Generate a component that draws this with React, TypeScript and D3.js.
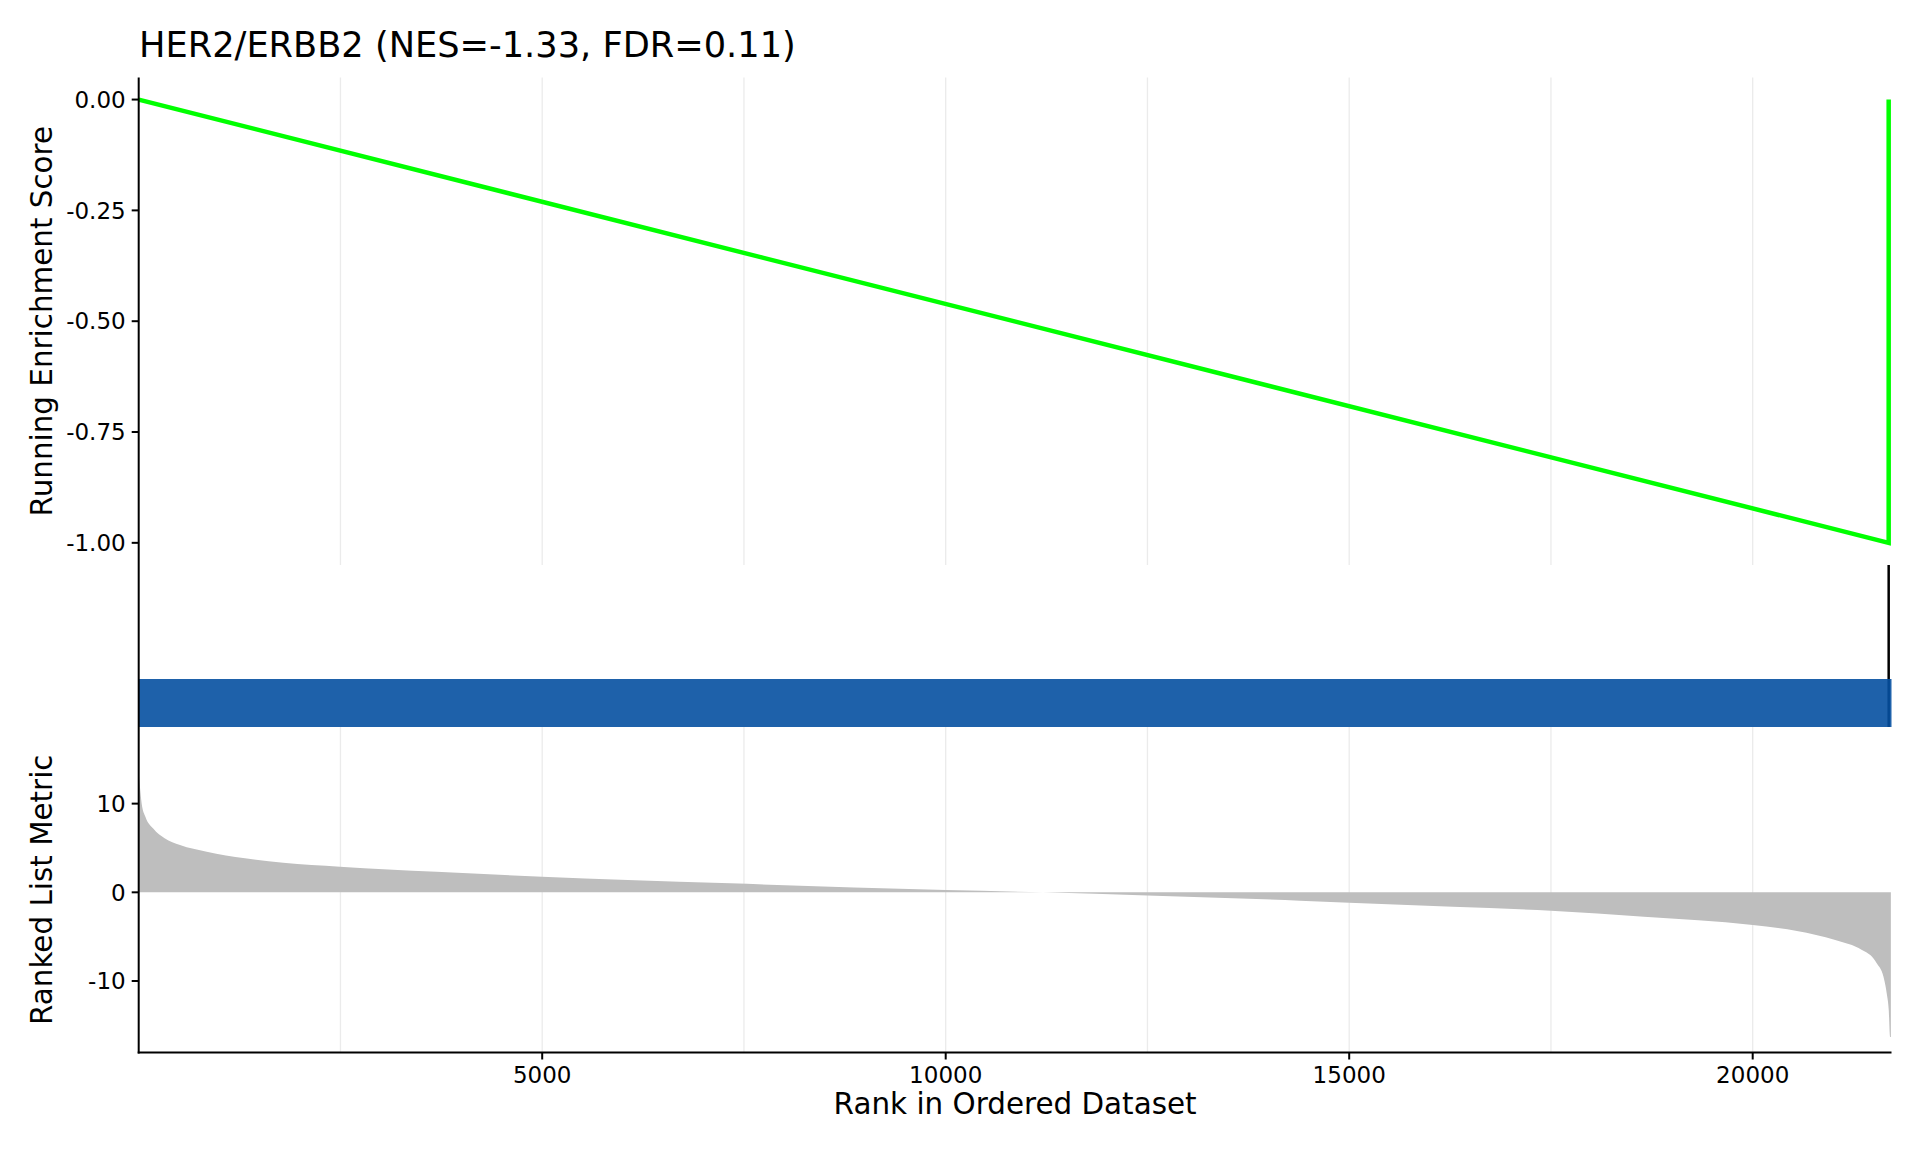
import React from "react";
import * as d3 from "d3";

// ---------- data ----------
const titleText = "HER2/ERBB2 (NES=-1.33, FDR=0.11)";
const xLabel = "Rank in Ordered Dataset";
const esLabel = "Running Enrichment Score";
const metricLabel = "Ranked List Metric";

const totalGenes = 21720;

// running enrichment score (rank, ES)
const esRanks = [0, 21685, 21685];
const esScores = [0, -1.0, 0];

// gene-set hits
const hitRanks = [21685];

// ranked list metric (rank, value)
const metricRanks = [
  0, 13, 37, 84, 180, 321, 512, 843, 1317, 1791, 2493, 3689, 5000, 6060, 7330,
  10000, 11206, 12500, 14390, 15000, 16285, 17500, 18653, 20000, 20548, 21023,
  21354, 21497, 21537, 21620, 21661, 21686, 21703, 21712,
];
const metricValues = [
  13.5, 12.1, 10.0, 8.5, 7.2, 6.1, 5.33, 4.58, 3.83, 3.34, 2.89, 2.32, 1.76,
  1.39, 1.01, 0.26, 0, -0.36, -0.94, -1.17, -1.62, -2.07, -2.75, -3.69, -4.36,
  -5.38, -6.5, -7.45, -8.0, -9.5, -11.4, -13.3, -16.3, -16.3,
];

const xTicks = [5000, 10000, 15000, 20000];
const xGrid = [2500, 5000, 7500, 10000, 12500, 15000, 17500, 20000];
const esTicks = [0, -0.25, -0.5, -0.75, -1.0];
const metricTicks = [10, 0, -10];

// ---------- layout ----------
const W = 1920;
const H = 1152;
const left = 138.7;
const right = 1891.5;
const topPanel = { top: 77.4, bottom: 565 };
const midPanel = { top: 565, barTop: 679, bottom: 727 };
const botPanel = { top: 727, bottom: 1052.5 };
const FONT = "'DejaVu Sans', sans-serif";

export default function App() {
  const x = d3.scaleLinear().domain([0, totalGenes]).range([left, right]);
  const yEs = d3.scaleLinear().domain([-1.05, 0.05]).range([topPanel.bottom, topPanel.top]);
  const yM = d3.scaleLinear().domain([-18.06, 18.64]).range([botPanel.bottom, botPanel.top]);

  const esData = esRanks.map((r, i) => ({ r, v: esScores[i] }));
  const mData = metricRanks.map((r, i) => ({ r, v: metricValues[i] }));

  const esLine = d3
    .line<{ r: number; v: number }>()
    .x((d) => x(d.r))
    .y((d) => yEs(d.v));

  const mArea = d3
    .area<{ r: number; v: number }>()
    .x((d) => x(d.r))
    .y0(yM(0))
    .y1((d) => yM(d.v))
    .curve(d3.curveMonotoneX);

  const fmtEs = (v: number) => (v === 0 ? "0.00" : d3.format(".2f")(v).replace("−", "-"));

  const tickLen = 7;

  return (
    <svg
      width={W}
      height={H}
      viewBox={`0 0 ${W} ${H}`}
      style={{ position: "absolute", left: 0, top: 0, background: "#fff" }}
      fontFamily={FONT}
    >
      <rect x={0} y={0} width={W} height={H} fill="#ffffff" />

      {/* grid lines, top panel */}
      {xGrid.map((g) => (
        <line
          key={"gt" + g}
          x1={x(g)}
          x2={x(g)}
          y1={topPanel.top}
          y2={topPanel.bottom}
          stroke="#ebebeb"
          strokeWidth={1.3}
        />
      ))}
      {/* grid lines, bottom panel */}
      {xGrid.map((g) => (
        <line
          key={"gb" + g}
          x1={x(g)}
          x2={x(g)}
          y1={botPanel.top}
          y2={botPanel.bottom}
          stroke="#ebebeb"
          strokeWidth={1.3}
        />
      ))}

      {/* running ES */}
      <path
        d={esLine(esData) || ""}
        fill="none"
        stroke="#00ff00"
        strokeWidth={4.5}
        strokeLinejoin="miter"
      />

      {/* hits */}
      {hitRanks.map((h) => (
        <line
          key={"h" + h}
          x1={x(h)}
          x2={x(h)}
          y1={midPanel.top}
          y2={midPanel.bottom}
          stroke="#000"
          strokeWidth={2.5}
        />
      ))}
      {/* colour bar */}
      <rect
        x={x(0)}
        y={midPanel.barTop}
        width={x(totalGenes) - x(0)}
        height={midPanel.bottom - midPanel.barTop}
        fill="#0650a1"
        fillOpacity={0.9}
      />

      {/* ranked metric */}
      <path d={mArea(mData) || ""} fill="#bebebe" stroke="none" />

      {/* axes lines */}
      <line x1={left} x2={left} y1={topPanel.top} y2={botPanel.bottom + 1} stroke="#000" strokeWidth={2} />
      <line x1={left - 1} x2={right} y1={botPanel.bottom} y2={botPanel.bottom} stroke="#000" strokeWidth={2.2} />

      {/* ES ticks */}
      {esTicks.map((t) => (
        <g key={"et" + t}>
          <line x1={left - tickLen} x2={left} y1={yEs(t)} y2={yEs(t)} stroke="#000" strokeWidth={2} />
          <text
            x={left - tickLen - 6}
            y={yEs(t)}
            dy="0.36em"
            textAnchor="end"
            fontSize={23}
            fill="#000"
          >
            {fmtEs(t)}
          </text>
        </g>
      ))}

      {/* metric ticks */}
      {metricTicks.map((t) => (
        <g key={"mt" + t}>
          <line x1={left - tickLen} x2={left} y1={yM(t)} y2={yM(t)} stroke="#000" strokeWidth={2} />
          <text
            x={left - tickLen - 6}
            y={yM(t)}
            dy="0.36em"
            textAnchor="end"
            fontSize={23}
            fill="#000"
          >
            {String(t)}
          </text>
        </g>
      ))}

      {/* x ticks */}
      {xTicks.map((t) => (
        <g key={"xt" + t}>
          <line x1={x(t)} x2={x(t)} y1={botPanel.bottom} y2={botPanel.bottom + tickLen} stroke="#000" strokeWidth={2} />
          <text x={x(t)} y={1082.7} textAnchor="middle" fontSize={23} fill="#000">
            {String(t)}
          </text>
        </g>
      ))}

      {/* axis titles */}
      <text x={(left + right) / 2} y={1114} textAnchor="middle" fontSize={29.4} fill="#000">
        {xLabel}
      </text>
      <text
        transform={`translate(52, ${(topPanel.top + topPanel.bottom) / 2}) rotate(-90)`}
        textAnchor="middle"
        fontSize={29.4}
        fill="#000"
      >
        {esLabel}
      </text>
      <text
        transform={`translate(52, ${(botPanel.top + botPanel.bottom) / 2}) rotate(-90)`}
        textAnchor="middle"
        fontSize={29.4}
        fill="#000"
      >
        {metricLabel}
      </text>

      {/* title */}
      <text x={139} y={56.7} fontSize={35.2} fill="#000">
        {titleText}
      </text>
    </svg>
  );
}
